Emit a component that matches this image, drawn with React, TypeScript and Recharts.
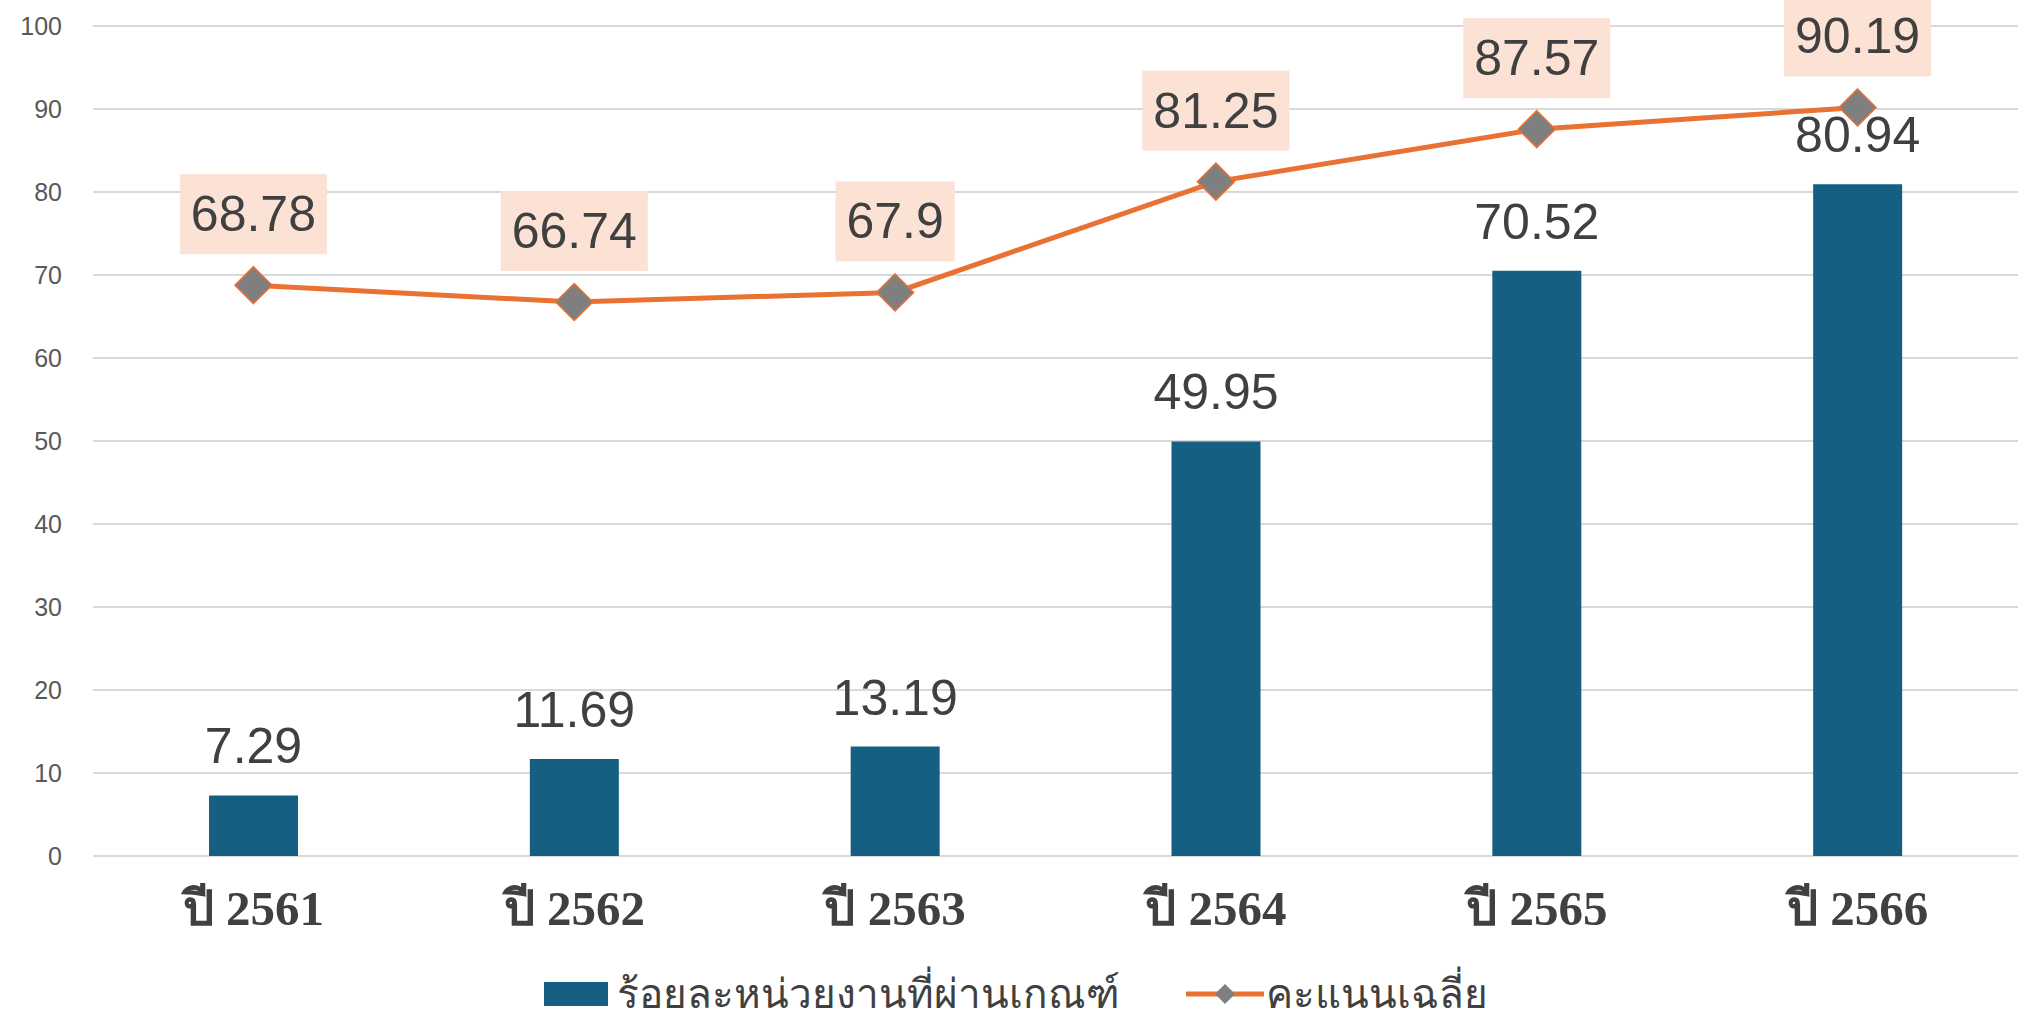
import { ComposedChart, Bar, Line, XAxis, YAxis, CartesianGrid, Legend, LabelList } from "recharts";

const years = ["ปี 2561", "ปี 2562", "ปี 2563", "ปี 2564", "ปี 2565", "ปี 2566"];
const passRate = [7.29, 11.69, 13.19, 49.95, 70.52, 80.94];
const avgScore = [68.78, 66.74, 67.9, 81.25, 87.57, 90.19];
const yTicks = [0, 10, 20, 30, 40, 50, 60, 70, 80, 90, 100];

const barName = "ร้อยละหน่วยงานที่ผ่านเกณฑ์";
const lineName = "คะแนนเฉลี่ย";

const data = years.map((year, i) => ({ year, pass: passRate[i], avg: avgScore[i] }));

const BAR = "#156082";
const LINE = "#E97132";
const TEXT = "#404040";
const SANS = "'Liberation Sans', Arial, sans-serif";

function textWidth(s: string, size: number) {
  let w = 0;
  for (const c of s) w += c === "." ? 0.278 : 0.556;
  return w * size;
}

function Diamond(props: any) {
  const { cx, cy } = props;
  if (cx == null || cy == null) return null;
  const r = 18.5;
  return (
    <polygon
      points={`${cx},${cy - r} ${cx + r},${cy} ${cx},${cy + r} ${cx - r},${cy}`}
      fill="#7F7F7F"
      stroke={LINE}
      strokeWidth={1.5}
    />
  );
}

function BarValue(props: any) {
  const { x, y, width, value } = props;
  return (
    <text x={x + width / 2} y={y - 49} textAnchor="middle" dominantBaseline="central"
      fontSize={50} fontFamily={SANS} fill={TEXT}>
      {value}
    </text>
  );
}

function LineValue(props: any) {
  const { x, y, value } = props;
  const label = String(value);
  const w = textWidth(label, 50) + 22;
  const cy = y - 71;
  return (
    <g>
      <rect x={x - w / 2} y={cy - 40} width={w} height={80} fill="#FBE2D5" />
      <text x={x} y={cy} textAnchor="middle" dominantBaseline="central"
        fontSize={50} fontFamily={SANS} fill={TEXT}>
        {label}
      </text>
    </g>
  );
}

function YearTick(props: any) {
  const { x, y, payload } = props;
  return (
    <text x={x} y={y + 44} textAnchor="middle" dominantBaseline="central"
      fontSize={49} fontWeight="bold" fontFamily="'Liberation Serif', 'DejaVu Serif', serif" fill={TEXT}>
      {payload.value}
    </text>
  );
}

function LegendBox() {
  const item = { display: "flex", alignItems: "center", fontSize: 40.5, color: TEXT, fontFamily: SANS };
  return (
    <div style={{ display: "flex", justifyContent: "center", alignItems: "center", height: 59, paddingTop: 16, paddingLeft: 14, boxSizing: "border-box" }}>
      <div style={{ ...item, marginRight: 66 }}>
        <svg width={64} height={24} style={{ marginRight: 9 }}>
          <rect x={0} y={0} width={64} height={24} fill={BAR} />
        </svg>
        {barName}
      </div>
      <div style={item}>
        <svg width={78} height={24} style={{ marginRight: 2 }}>
          <line x1={0} y1={12} x2={78} y2={12} stroke={LINE} strokeWidth={5} />
          <polygon points="39,2 49,12 39,22 29,12" fill="#7F7F7F" />
        </svg>
        {lineName}
      </div>
    </div>
  );
}

export default function App() {
  return (
    <div style={{ position: "absolute", left: 0, top: 0, background: "#fff" }}>
      <ComposedChart width={2018} height={1015} data={data} margin={{ top: 26, right: 0, left: 0, bottom: 0 }}>
        <CartesianGrid vertical={false} stroke="#D9D9D9" strokeWidth={2} />
        <XAxis dataKey="year" axisLine={false} tickLine={false} height={100} tick={<YearTick />} interval={0} />
        <YAxis domain={[0, 100]} ticks={yTicks} width={93} axisLine={false} tickLine={false}
          tickMargin={25} tick={{ fontSize: 25, fill: "#595959", fontFamily: SANS }} interval={0} />
        <Legend verticalAlign="bottom" height={59} content={<LegendBox />} />
        <Bar dataKey="pass" name={barName} fill={BAR} barSize={89} isAnimationActive={false}>
          <LabelList dataKey="pass" content={<BarValue />} />
        </Bar>
        <Line dataKey="avg" name={lineName} type="linear" stroke={LINE} strokeWidth={5}
          dot={<Diamond />} activeDot={false} isAnimationActive={false}>
          <LabelList dataKey="avg" content={<LineValue />} />
        </Line>
      </ComposedChart>
    </div>
  );
}
